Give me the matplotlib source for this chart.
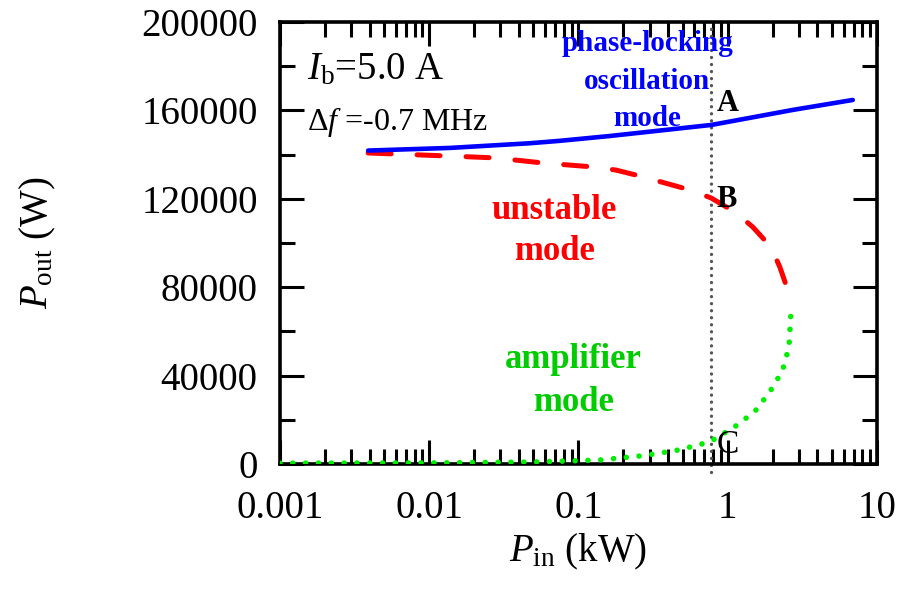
import matplotlib
matplotlib.use("Agg")
import matplotlib.pyplot as plt
from matplotlib.ticker import FixedLocator, LogLocator, NullFormatter, FixedFormatter

plt.rcParams["font.family"] = ["Liberation Serif", "DejaVu Serif"]
plt.rcParams["mathtext.fontset"] = "custom"
plt.rcParams["mathtext.rm"] = "Liberation Serif"
plt.rcParams["mathtext.it"] = "Liberation Serif:italic"
plt.rcParams["mathtext.bf"] = "Liberation Serif:bold"

# Phase-locking oscillation branch (solid)
pin_lock = [0.0039, 0.0138, 0.047, 0.075, 0.163, 0.78, 2.74, 6.9]
pout_lock = [141800, 143000, 145100, 146200, 148400, 153400, 160200, 164700]

# Unstable branch (dashed)
pin_unst = [0.0039, 0.0128, 0.0275, 0.0578, 0.125, 0.178, 0.258, 0.558,
            0.773, 1.12, 1.476, 1.95, 2.24, 2.57, 2.65]
pout_unst = [140700, 139400, 138500, 136200, 134400, 133000, 130300, 124000,
             120400, 114000, 107200, 98200, 89100, 77400, 73000]

# Amplifier branch (dotted)
pin_amp = [0.001, 0.01, 0.05, 0.139, 0.272, 0.467, 0.668, 0.80, 1.12,
           1.52, 1.92, 2.33, 2.58, 2.67]
pout_amp = [400, 500, 900, 1800, 3750, 6300, 9000, 10900, 16900,
            23700, 32700, 42100, 53100, 71000]

pin_marker = 0.78

x_ticks = [0.001, 0.01, 0.1, 1, 10]
x_labels = ["0.001", "0.01", "0.1", "1", "10"]
y_ticks = [0, 40000, 80000, 120000, 160000, 200000]
y_labels = ["0", "40000", "80000", "120000", "160000", "200000"]

fig = plt.figure(figsize=(9.03, 5.91), dpi=100)
ax = fig.add_axes([0.310, 0.2149, 0.661, 0.748])

ax.plot(pin_lock, pout_lock, color="#0000ff", lw=3.3, solid_capstyle="round", zorder=4)
ax.plot(pin_unst, pout_unst, color="#ff0000", lw=3.6, dashes=(4.6, 5.2),
        dash_capstyle="round", zorder=3)
ax.plot(pin_amp, pout_amp, color="#00ee00", lw=4.0, dashes=(0.01, 2.3),
        dash_capstyle="round", zorder=3)
ax.plot([pin_marker, pin_marker], [-3500, 200000], color="#555555", lw=2.4,
        dashes=(0.01, 2.1), dash_capstyle="round", zorder=2, clip_on=False)

ax.set_xscale("log")
ax.set_xlim(0.001, 10)
ax.set_ylim(0, 200000)

ax.xaxis.set_major_locator(FixedLocator(x_ticks))
ax.xaxis.set_major_formatter(FixedFormatter(x_labels))
ax.xaxis.set_minor_locator(LogLocator(base=10, subs=range(2, 10), numticks=20))
ax.xaxis.set_minor_formatter(NullFormatter())
ax.yaxis.set_major_locator(FixedLocator(y_ticks))
ax.yaxis.set_major_formatter(FixedFormatter(y_labels))
ax.yaxis.set_minor_locator(FixedLocator([20000, 60000, 100000, 140000, 180000]))

for side in ax.spines.values():
    side.set_linewidth(2.6)
ax.tick_params(which="both", direction="in", top=True, right=True, width=2.2)
ax.tick_params(which="major", length=17)
ax.tick_params(which="minor", length=11)
ax.tick_params(axis="y", which="major", labelsize=28, pad=16)
ax.tick_params(axis="x", which="major", labelsize=28, pad=19)

ax.set_xlabel(r"$P_{\mathrm{in}}$ (kW)", fontsize=28, labelpad=3)
ax.set_ylabel(r"$P_{\mathrm{out}}$ (W)", fontsize=28, labelpad=60)

ax.text(0.045, 0.891, r"$I_{\mathrm{b}}$=5.0 A", transform=ax.transAxes,
        fontsize=28, ha="left", va="center")
ax.text(0.045, 0.774, r"$\Delta f$ =-0.7 MHz", transform=ax.transAxes,
        fontsize=23, ha="left", va="center")

# Mode annotations
for txt, yf in [("phase-locking", 0.951), ("oscillation", 0.866), ("mode", 0.781)]:
    ax.text(0.615, yf, txt, transform=ax.transAxes, color="#0000ff", fontsize=21,
            fontweight="bold", ha="center", va="center")
ax.text(0.46, 0.527, "unstable\nmode", transform=ax.transAxes,
        color="#ff0000", fontsize=25, fontweight="bold", ha="center", va="center",
        linespacing=1.34)
ax.text(0.492, 0.188, "amplifier\nmode", transform=ax.transAxes,
        color="#00cc00", fontsize=25, fontweight="bold", ha="center", va="center",
        linespacing=1.42)

ax.text(0.84, 163000, "A", fontsize=22, fontweight="bold", ha="left", va="center")
ax.text(0.84, 119500, "B", fontsize=22, fontweight="bold", ha="left", va="center")
ax.text(0.84, 8500, "C", fontsize=24, ha="left", va="center")

fig.savefig("out.png", dpi=100)
